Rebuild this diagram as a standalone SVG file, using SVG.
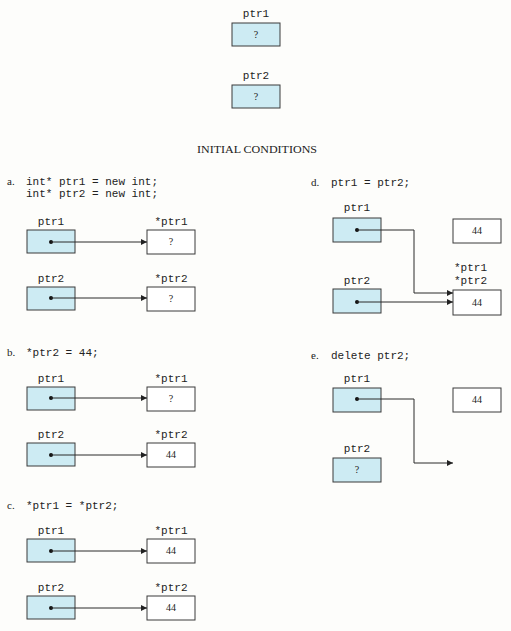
<svg xmlns="http://www.w3.org/2000/svg" width="511" height="631" viewBox="0 0 511 631">
<style>
.bg{fill:#fdfdfb}
.p{fill:#cdebf3;stroke:#3a3a3a;stroke-width:1}
.v{fill:#ffffff;stroke:#3a3a3a;stroke-width:1}
.m{font-family:"Liberation Mono","DejaVu Sans Mono",monospace;font-size:11px;fill:#222}
.mc{font-family:"Liberation Mono","DejaVu Sans Mono",monospace;font-size:11px;fill:#222;text-anchor:middle}
.s{font-family:"Liberation Serif","DejaVu Serif",serif;font-size:11px;fill:#222}
.q{font-family:"Liberation Serif","DejaVu Serif",serif;font-size:10px;fill:#222;text-anchor:middle}
.c{fill:none;stroke:#2a2a2a;stroke-width:1}
.d{fill:#111}
</style>
<defs>
<marker id="ah" markerUnits="userSpaceOnUse" markerWidth="7" markerHeight="7" refX="6" refY="3.5" orient="auto">
<path d="M0,0.5 L6,3.5 L0,6.5 Z" fill="#222"/>
</marker>
</defs>
<rect class="bg" x="0" y="0" width="511" height="631"/>

<g id="init">
<g id="init-ptr1"><text class="mc" x="256" y="17">ptr1</text><rect class="p" x="232" y="23" width="48" height="23"/><text class="q" x="256" y="38">?</text></g>
<g id="init-ptr2"><text class="mc" x="256" y="79">ptr2</text><rect class="p" x="232" y="85" width="48" height="23"/><text class="q" x="256" y="100">?</text></g>
<text class="s" x="257" y="153" text-anchor="middle" font-size="10" textLength="120" lengthAdjust="spacingAndGlyphs">INITIAL CONDITIONS</text>
</g>

<g id="sec-a">
<text class="s" x="7" y="185">a.</text>
<text class="m" x="26" y="185">int* ptr1 = new int;</text>
<text class="m" x="26" y="197">int* ptr2 = new int;</text>
<g id="a-ptr1"><text class="mc" x="51" y="225">ptr1</text><rect class="p" x="27" y="230" width="48" height="23"/></g>
<g id="a-star1"><text class="mc" x="171" y="225">*ptr1</text><rect class="v" x="147" y="230" width="48" height="24"/><text class="q" x="171" y="245">?</text></g>
<g id="a-ptr2"><text class="mc" x="51" y="282">ptr2</text><rect class="p" x="27" y="287" width="48" height="23"/></g>
<g id="a-star2"><text class="mc" x="171" y="282">*ptr2</text><rect class="v" x="147" y="287" width="48" height="24"/><text class="q" x="171" y="302">?</text></g>
</g>

<g id="sec-b">
<text class="s" x="7" y="356">b.</text>
<text class="m" x="26" y="356">*ptr2 = 44;</text>
<g id="b-ptr1"><text class="mc" x="51" y="382">ptr1</text><rect class="p" x="27" y="387" width="48" height="23"/></g>
<g id="b-star1"><text class="mc" x="171" y="382">*ptr1</text><rect class="v" x="147" y="387" width="48" height="24"/><text class="q" x="171" y="402">?</text></g>
<g id="b-ptr2"><text class="mc" x="51" y="438">ptr2</text><rect class="p" x="27" y="443" width="48" height="23"/></g>
<g id="b-star2"><text class="mc" x="171" y="438">*ptr2</text><rect class="v" x="147" y="443" width="48" height="24"/><text class="q" x="171" y="458">44</text></g>
</g>

<g id="sec-c">
<text class="s" x="7" y="509">c.</text>
<text class="m" x="26" y="509">*ptr1 = *ptr2;</text>
<g id="c-ptr1"><text class="mc" x="51" y="534">ptr1</text><rect class="p" x="27" y="539" width="48" height="23"/></g>
<g id="c-star1"><text class="mc" x="171" y="534">*ptr1</text><rect class="v" x="147" y="539" width="48" height="24"/><text class="q" x="171" y="554">44</text></g>
<g id="c-ptr2"><text class="mc" x="51" y="591">ptr2</text><rect class="p" x="27" y="596" width="48" height="23"/></g>
<g id="c-star2"><text class="mc" x="171" y="591">*ptr2</text><rect class="v" x="147" y="596" width="48" height="24"/><text class="q" x="171" y="611">44</text></g>
</g>

<g id="sec-d">
<text class="s" x="311" y="186">d.</text>
<text class="m" x="331" y="186">ptr1 = ptr2;</text>
<g id="d-ptr1"><text class="mc" x="357" y="211">ptr1</text><rect class="p" x="333" y="218" width="48" height="24"/></g>
<g id="d-old"><rect class="v" x="453" y="219" width="48" height="24"/><text class="q" x="477" y="234">44</text></g>
<g id="d-ptr2"><text class="mc" x="357" y="284">ptr2</text><rect class="p" x="333" y="289" width="48" height="24"/></g>
<g id="d-star"><text class="m" x="454" y="271">*ptr1</text><text class="m" x="454" y="284">*ptr2</text><rect class="v" x="453" y="290" width="48" height="25"/><text class="q" x="477" y="306">44</text></g>
</g>

<g id="sec-e">
<text class="s" x="311" y="359">e.</text>
<text class="m" x="331" y="359">delete ptr2;</text>
<g id="e-ptr1"><text class="mc" x="357" y="382">ptr1</text><rect class="p" x="333" y="388" width="48" height="24"/></g>
<g id="e-old"><rect class="v" x="453" y="388" width="48" height="24"/><text class="q" x="477" y="403">44</text></g>
<g id="e-ptr2"><text class="mc" x="357" y="452">ptr2</text><rect class="p" x="333" y="458" width="48" height="24"/><text class="q" x="357" y="473">?</text></g>
</g>

<g id="connectors">
<circle class="d" cx="51" cy="242" r="2"/><path class="c" d="M51,242 H147" marker-end="url(#ah)"/>
<circle class="d" cx="51" cy="298" r="2"/><path class="c" d="M51,298 H147" marker-end="url(#ah)"/>
<circle class="d" cx="51" cy="398" r="2"/><path class="c" d="M51,398 H147" marker-end="url(#ah)"/>
<circle class="d" cx="51" cy="455" r="2"/><path class="c" d="M51,455 H147" marker-end="url(#ah)"/>
<circle class="d" cx="51" cy="551" r="2"/><path class="c" d="M51,551 H147" marker-end="url(#ah)"/>
<circle class="d" cx="51" cy="608" r="2"/><path class="c" d="M51,608 H147" marker-end="url(#ah)"/>
<circle class="d" cx="357" cy="230" r="2"/><path class="c" d="M357,230 H414 V293 H453" marker-end="url(#ah)"/>
<circle class="d" cx="357" cy="302" r="2"/><path class="c" d="M357,302 H453" marker-end="url(#ah)"/>
<circle class="d" cx="357" cy="399" r="2"/><path class="c" d="M357,399 H414 V463 H453" marker-end="url(#ah)"/>
</g>
</svg>
